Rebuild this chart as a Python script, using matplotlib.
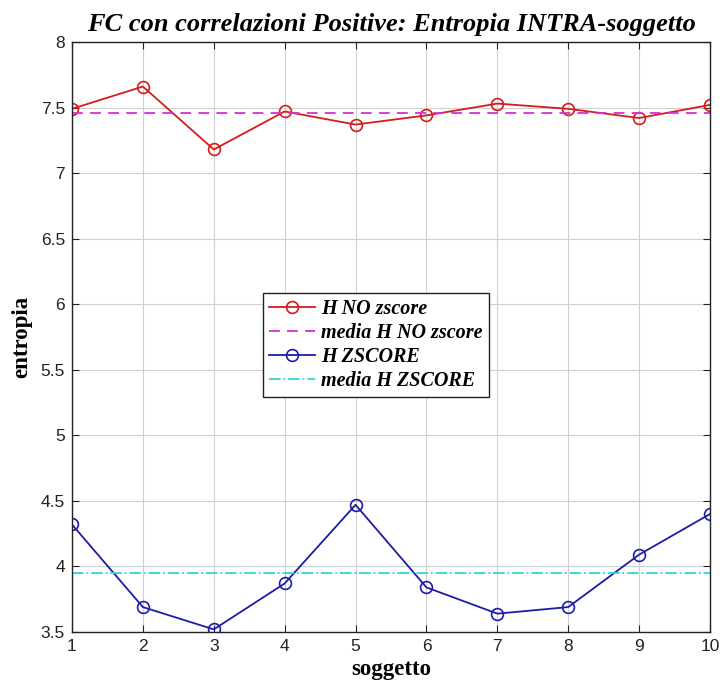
import matplotlib.pyplot as plt
import numpy as np

# dati
soggetti = [1, 2, 3, 4, 5, 6, 7, 8, 9, 10]
h_no_zscore = [7.49, 7.66, 7.18, 7.47, 7.37, 7.44, 7.53, 7.49, 7.42, 7.52]
h_zscore = [4.32, 3.69, 3.52, 3.87, 4.47, 3.84, 3.64, 3.69, 4.09, 4.40]
yticks = [3.5, 4, 4.5, 5, 5.5, 6, 6.5, 7, 7.5, 8]
ytick_labels = ['3.5', '4', '4.5', '5', '5.5', '6', '6.5', '7', '7.5', '8']

media_no = np.mean(h_no_zscore)
media_z = np.mean(h_zscore)

plt.rcParams['font.family'] = ['Liberation Sans', 'DejaVu Sans']

fig = plt.figure(figsize=(7.22, 6.88), dpi=100)
ax = fig.add_axes([0.0997, 0.0814, 0.8837, 0.8576])

ax.plot(soggetti, h_no_zscore, '-o', color='#d41c1c', mfc='none', ms=8.5, lw=1.3,
        mew=1.2, label='H NO zscore')
ax.plot([soggetti[0], soggetti[-1]], [media_no, media_no], '--', color='#d62fd6',
        lw=1.3, dashes=(6, 4), label='media H NO zscore')
ax.plot(soggetti, h_zscore, '-o', color='#1c1ca8', mfc='none', ms=8.5, lw=1.3,
        mew=1.2, label='H ZSCORE')
ax.plot([soggetti[0], soggetti[-1]], [media_z, media_z], '-.', color='#2fd6d6',
        lw=1.3, label='media H ZSCORE')

ax.set_xlim(1, 10)
ax.set_ylim(3.5, 8)
ax.set_xticks(soggetti)
ax.set_yticks(yticks)
ax.set_yticklabels(ytick_labels)
ax.tick_params(direction='in', labelsize=12.5, length=5, top=True, right=True,
               labeltop=False, labelright=False, colors='#222222', pad=5)
ax.grid(True, color='#d0d0d0', lw=0.8)
for s in ax.spines.values():
    s.set_color('#222222')
    s.set_linewidth(1)

serif = {'family': 'Liberation Serif', 'weight': 'bold'}
ax.set_title('FC con correlazioni Positive: Entropia INTRA-soggetto',
             fontdict=serif, style='italic', fontsize=19, pad=8)
ax.set_xlabel('soggetto', fontdict=serif, fontsize=16.5, labelpad=4)
ax.set_ylabel('entropia', fontdict=serif, fontsize=16.5, labelpad=6)

leg = ax.legend(loc='center', bbox_to_anchor=(0.476, 0.486), fancybox=False,
                prop={'family': 'Liberation Serif', 'weight': 'bold',
                      'style': 'italic', 'size': 14.5},
                handlelength=2.3, handletextpad=0.3, labelspacing=0.2,
                borderpad=0.3)
leg.get_frame().set_edgecolor('#222222')
leg.get_frame().set_linewidth(1)
leg.get_frame().set_alpha(1)

plt.savefig('out.png', dpi=100)
plt.close()
